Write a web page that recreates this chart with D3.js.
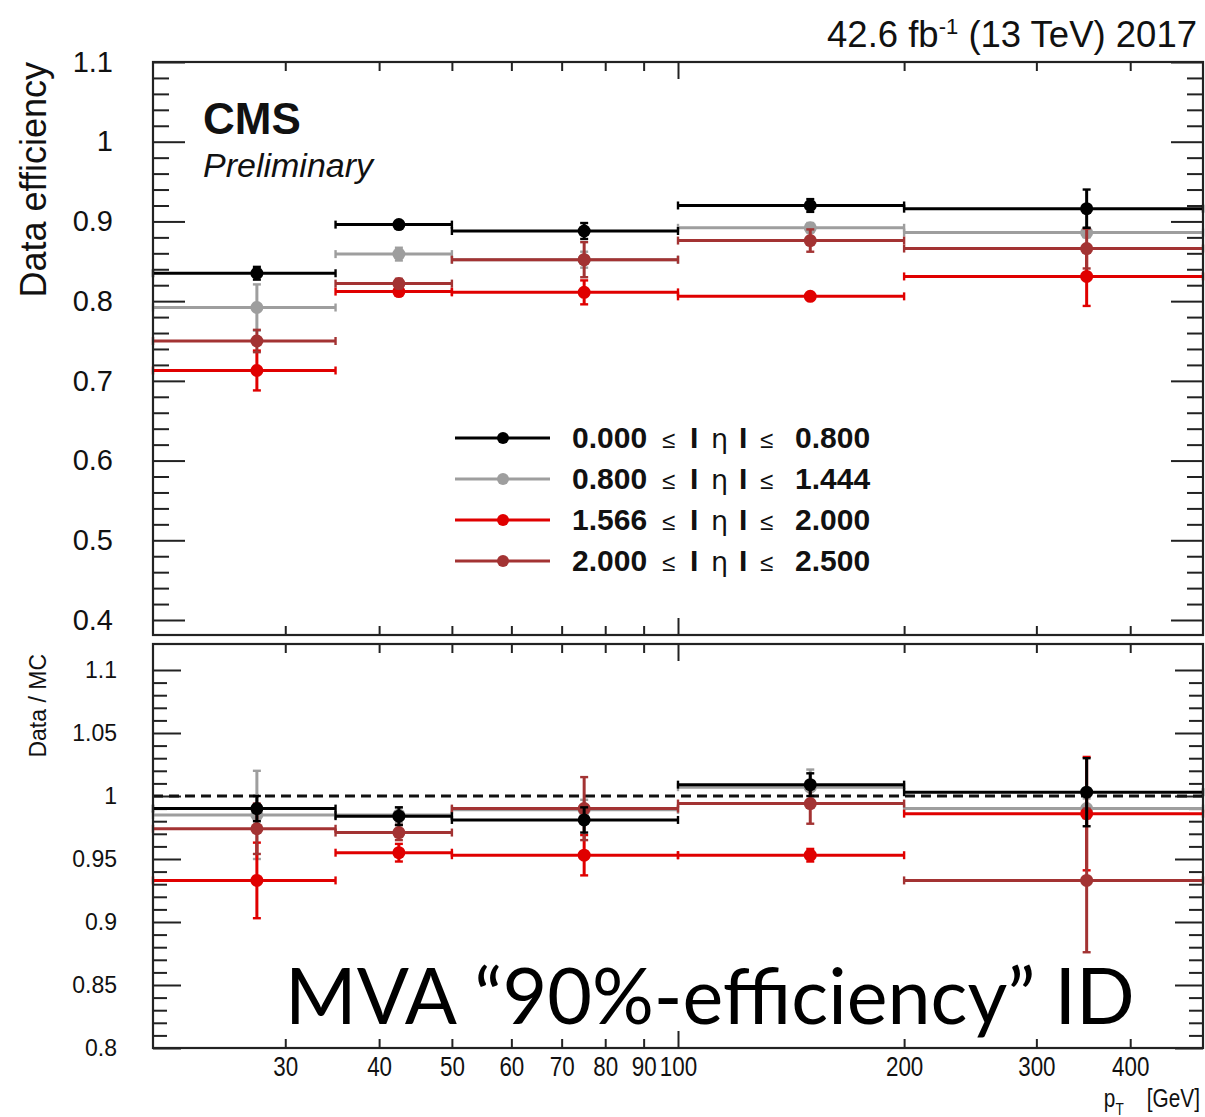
<!DOCTYPE html>
<html><head><meta charset="utf-8">
<script src="https://cdn.jsdelivr.net/npm/d3@7"></script>
<style>body{margin:0;background:#fff} svg{display:block} text{font-family:"Liberation Sans",Arial,sans-serif}</style>
</head><body><svg id="c" width="1205" height="1117"></svg>
<script>
// ---------- data ----------
const ptEdges = [20, 35, 50, 100, 200, 500];
const ptCenters = [27.5, 42.5, 75, 150, 350];
const xTickValues = [30, 40, 50, 60, 70, 80, 90, 100, 200, 300, 400];
const xMajorTicks = [100];
const etaLow  = ["0.000", "0.800", "1.566", "2.000"];
const etaHigh = ["0.800", "1.444", "2.000", "2.500"];
const seriesColors = ["#000000", "#9e9e9e", "#e00000", "#a33333"];

const effBlack    = [0.835, 0.896, 0.888, 0.920, 0.916];
const effBlackErr = [0.008, 0.004, 0.010, 0.008, 0.024];
const effGray     = [0.792, 0.859, 0.852, 0.892, 0.886];
const effGrayErr  = [0.029, 0.008, 0.010, 0.006, 0.006];
const effRed      = [0.713, 0.812, 0.811, 0.806, 0.831];
const effRedErr   = [0.025, 0.005, 0.015, 0.004, 0.037];
const effBrown    = [0.750, 0.822, 0.852, 0.876, 0.866];
const effBrownErr = [0.014, 0.006, 0.022, 0.014, 0.025];

const ratioBlack    = [0.990, 0.984, 0.981, 1.009, 1.003];
const ratioBlackErr = [0.010, 0.007, 0.010, 0.009, 0.027];
const ratioGray     = [0.985, 0.985, 0.989, 1.007, 0.990];
const ratioGrayErr  = [0.035, 0.006, 0.008, 0.014, 0.008];
const ratioRed      = [0.933, 0.955, 0.953, 0.953, 0.986];
const ratioRedErr   = [0.030, 0.007, 0.016, 0.005, 0.045];
const ratioBrown    = [0.974, 0.971, 0.990, 0.994, 0.933];
const ratioBrownErr = [0.020, 0.006, 0.025, 0.016, 0.057];

const topTicksMajor = [0.4, 0.5, 0.6, 0.7, 0.8, 0.9, 1.0, 1.1];
const botTicksMajor = [0.8, 0.85, 0.9, 0.95, 1.0, 1.05, 1.1];

// ---------- layout ----------
const svg = d3.select("#c");
const L = 153, R = 1203;
const topFrame = [62, 635], botFrame = [644, 1048];
const x = d3.scaleLog().domain([20, 500]).range([L, R]);
const yTop = d3.scaleLinear().domain([0.4, 1.1]).range([620, 62]);
const yBot = d3.scaleLinear().domain([0.8, 1.1]).range([1048, 670]);
const frameColor = "#222";

const effSeries = [
  {v: effBlack, e: effBlackErr, c: seriesColors[0]},
  {v: effGray, e: effGrayErr, c: seriesColors[1]},
  {v: effRed, e: effRedErr, c: seriesColors[2]},
  {v: effBrown, e: effBrownErr, c: seriesColors[3]}];
const ratioSeries = [
  {v: ratioBlack, e: ratioBlackErr, c: seriesColors[0]},
  {v: ratioGray, e: ratioGrayErr, c: seriesColors[1]},
  {v: ratioRed, e: ratioRedErr, c: seriesColors[2]},
  {v: ratioBrown, e: ratioBrownErr, c: seriesColors[3]}];
const drawOrder = [1, 2, 3, 0];

function minorTicks(lo, hi, step) {
  const out = [];
  const n = Math.round((hi - lo) / step);
  for (let i = 0; i <= n; i++) out.push(+(lo + i * step).toFixed(4));
  return out;
}

function yAxes(y, frame, majors, minorStep, majLen, minLen, fontSize, fmt) {
  const [lo, hi] = y.domain();
  const bottomVal = y.invert(frame[1]);
  const mins = minorTicks(Math.ceil(bottomVal / minorStep) * minorStep, hi, minorStep)
      .filter(v => majors.every(m => Math.abs(m - v) > 1e-6) && y(v) <= frame[1] && y(v) >= frame[0]);
  const gl = svg.append("g").attr("transform", `translate(${L},0)`)
    .call(d3.axisLeft(y).tickValues(majors).tickSize(-majLen).tickPadding(majLen + 8).tickFormat(fmt));
  gl.select(".domain").remove();
  gl.selectAll("line").attr("stroke", frameColor).attr("stroke-width", 2);
  gl.selectAll("text").attr("font-size", fontSize).attr("fill", "#111")
    .style("font-family", "'Liberation Sans',Arial,sans-serif");
  const glm = svg.append("g").attr("transform", `translate(${L},0)`)
    .call(d3.axisLeft(y).tickValues(mins).tickSize(-minLen).tickFormat(""));
  glm.select(".domain").remove();
  glm.selectAll("line").attr("stroke", frameColor).attr("stroke-width", 2);
  const gr = svg.append("g").attr("transform", `translate(${R},0)`)
    .call(d3.axisRight(y).tickValues(majors).tickSize(-majLen).tickFormat(""));
  gr.select(".domain").remove();
  gr.selectAll("line").attr("stroke", frameColor).attr("stroke-width", 2);
  const grm = svg.append("g").attr("transform", `translate(${R},0)`)
    .call(d3.axisRight(y).tickValues(mins).tickSize(-minLen).tickFormat(""));
  grm.select(".domain").remove();
  grm.selectAll("line").attr("stroke", frameColor).attr("stroke-width", 2);
}

function xTicks(yPos, dir) {
  const minorVals = xTickValues.filter(v => !xMajorTicks.includes(v));
  const mk = (vals, len) => {
    const ax = (dir > 0 ? d3.axisTop(x) : d3.axisBottom(x)).tickValues(vals).tickSize(-len).tickFormat("");
    const g = svg.append("g").attr("transform", `translate(0,${yPos})`).call(ax);
    g.select(".domain").remove();
    g.selectAll("line").attr("stroke", frameColor).attr("stroke-width", 2);
  };
  mk(minorVals, 9);
  mk(xMajorTicks, 17);
}

function frame(f) {
  svg.append("rect").attr("x", L).attr("y", f[0]).attr("width", R - L).attr("height", f[1] - f[0])
    .attr("fill", "none").attr("stroke", frameColor).attr("stroke-width", 2.2);
}

yAxes(yTop, topFrame, topTicksMajor, 0.02, 32, 16, 29, d => d3.format("")(+d.toFixed(2)));
yAxes(yBot, botFrame, botTicksMajor, 0.01, 28, 14, 23, d => d3.format("")(+d.toFixed(2)));
xTicks(topFrame[0], 1);
xTicks(topFrame[1], -1);
xTicks(botFrame[0], 1);
xTicks(botFrame[1], -1);

// x tick labels (bottom panel)
const gxl = svg.append("g").attr("transform", `translate(0,${botFrame[1]})`)
  .call(d3.axisBottom(x).tickValues(xTickValues).tickSize(0).tickPadding(8).tickFormat(d3.format("d")));
gxl.select(".domain").remove();
gxl.selectAll("text").attr("font-size", 28).attr("fill", "#111").attr("transform", "scale(0.8,1)")
  .style("font-family", "'Liberation Sans',Arial,sans-serif");

// dashed unity line
svg.append("line").attr("x1", L).attr("x2", R).attr("y1", yBot(1)).attr("y2", yBot(1))
  .attr("stroke", "#111").attr("stroke-width", 3).attr("stroke-dasharray", "10,6");

// ---------- marks ----------
function drawSeries(series, y, r) {
  drawOrder.forEach(si => {
    const s = series[si];
    const g = svg.append("g").attr("stroke", s.c).attr("fill", s.c);
    s.v.forEach((v, i) => {
      const x0 = x(ptEdges[i]), x1 = x(ptEdges[i + 1]), xc = x(ptCenters[i]);
      const yv = y(v), yl = y(v - s.e[i]), yh = y(v + s.e[i]);
      g.append("line").attr("x1", x0).attr("x2", x1).attr("y1", yv).attr("y2", yv).attr("stroke-width", 3);
      [x0, x1].forEach(xx => g.append("line").attr("x1", xx).attr("x2", xx)
        .attr("y1", yv - 4).attr("y2", yv + 4).attr("stroke-width", 2.4));
      g.append("line").attr("x1", xc).attr("x2", xc).attr("y1", yl).attr("y2", yh).attr("stroke-width", 3);
      [yl, yh].forEach(yy => g.append("line").attr("x1", xc - 4).attr("x2", xc + 4)
        .attr("y1", yy).attr("y2", yy).attr("stroke-width", 2.4));
      g.append("circle").attr("cx", xc).attr("cy", yv).attr("r", r).attr("stroke", "none");
    });
  });
}
drawSeries(effSeries, yTop, 6.5);
drawSeries(ratioSeries, yBot, 6.5);

frame(topFrame);
frame(botFrame);

// ---------- legend ----------
const leg = svg.append("g");
etaLow.forEach((lo, i) => {
  const yy = 438 + i * 41;
  const c = seriesColors[i];
  leg.append("line").attr("x1", 455).attr("x2", 550).attr("y1", yy).attr("y2", yy)
    .attr("stroke", c).attr("stroke-width", 3);
  leg.append("circle").attr("cx", 503).attr("cy", yy).attr("r", 6).attr("fill", c);
  const t = leg.append("text").attr("y", yy + 10).attr("font-size", 30).attr("fill", "#111");
  t.append("tspan").attr("x", 572).attr("font-weight", "bold").text(lo);
  t.append("tspan").attr("x", 662).attr("font-size", 24).text("≤");
  t.append("tspan").attr("x", 690).attr("font-weight", "bold").text("I");
  t.append("tspan").attr("x", 711).attr("font-size", 27).style("font-family", "'DejaVu Sans',sans-serif").text("η");
  t.append("tspan").attr("x", 739).attr("font-weight", "bold").text("I");
  t.append("tspan").attr("x", 760).attr("font-size", 24).text("≤");
  t.append("tspan").attr("x", 795).attr("font-weight", "bold").text(etaHigh[i]);
});

// ---------- texts ----------
svg.append("text").attr("x", 203).attr("y", 134).attr("font-size", 44).attr("font-weight", "bold")
  .attr("fill", "#111").text("CMS");
svg.append("text").attr("x", 203).attr("y", 177).attr("font-size", 34).attr("font-style", "italic")
  .attr("fill", "#111").text("Preliminary");

const lumi = svg.append("text").attr("x", 1197).attr("y", 47).attr("text-anchor", "end")
  .attr("font-size", 36.5).attr("fill", "#111");
lumi.append("tspan").text("42.6 fb");
lumi.append("tspan").attr("dy", -13).attr("font-size", 22).text("-1");
lumi.append("tspan").attr("dy", 13).text(" (13 TeV) 2017");

svg.append("text").attr("transform", "translate(46,62) rotate(-90)").attr("text-anchor", "end")
  .attr("font-size", 36).attr("fill", "#111").text("Data efficiency");
svg.append("text").attr("transform", "translate(46,654) rotate(-90)").attr("text-anchor", "end")
  .attr("font-size", 23).attr("fill", "#111").text("Data / MC");

const xt = svg.append("text").attr("x", 1200).attr("y", 1107).attr("text-anchor", "end")
  .attr("font-size", 26).attr("fill", "#111").attr("transform", "translate(240,0) scale(0.8,1)")
  .attr("xml:space", "preserve");
xt.append("tspan").text("p");
xt.append("tspan").attr("dy", 8).attr("font-size", 17).text("T");
xt.append("tspan").attr("dy", -8).text("    [GeV]");

const big = svg.append("text").attr("x", 285).attr("y", 1024).attr("font-size", 72).attr("fill", "#000")
  .style("font-family", "Lato, 'Open Sans', sans-serif").text("MVA “90%-efficiency” ID");
const bl = big.node().getComputedTextLength();
big.attr("font-size", 72 * 850 / bl);
</script></body></html>
